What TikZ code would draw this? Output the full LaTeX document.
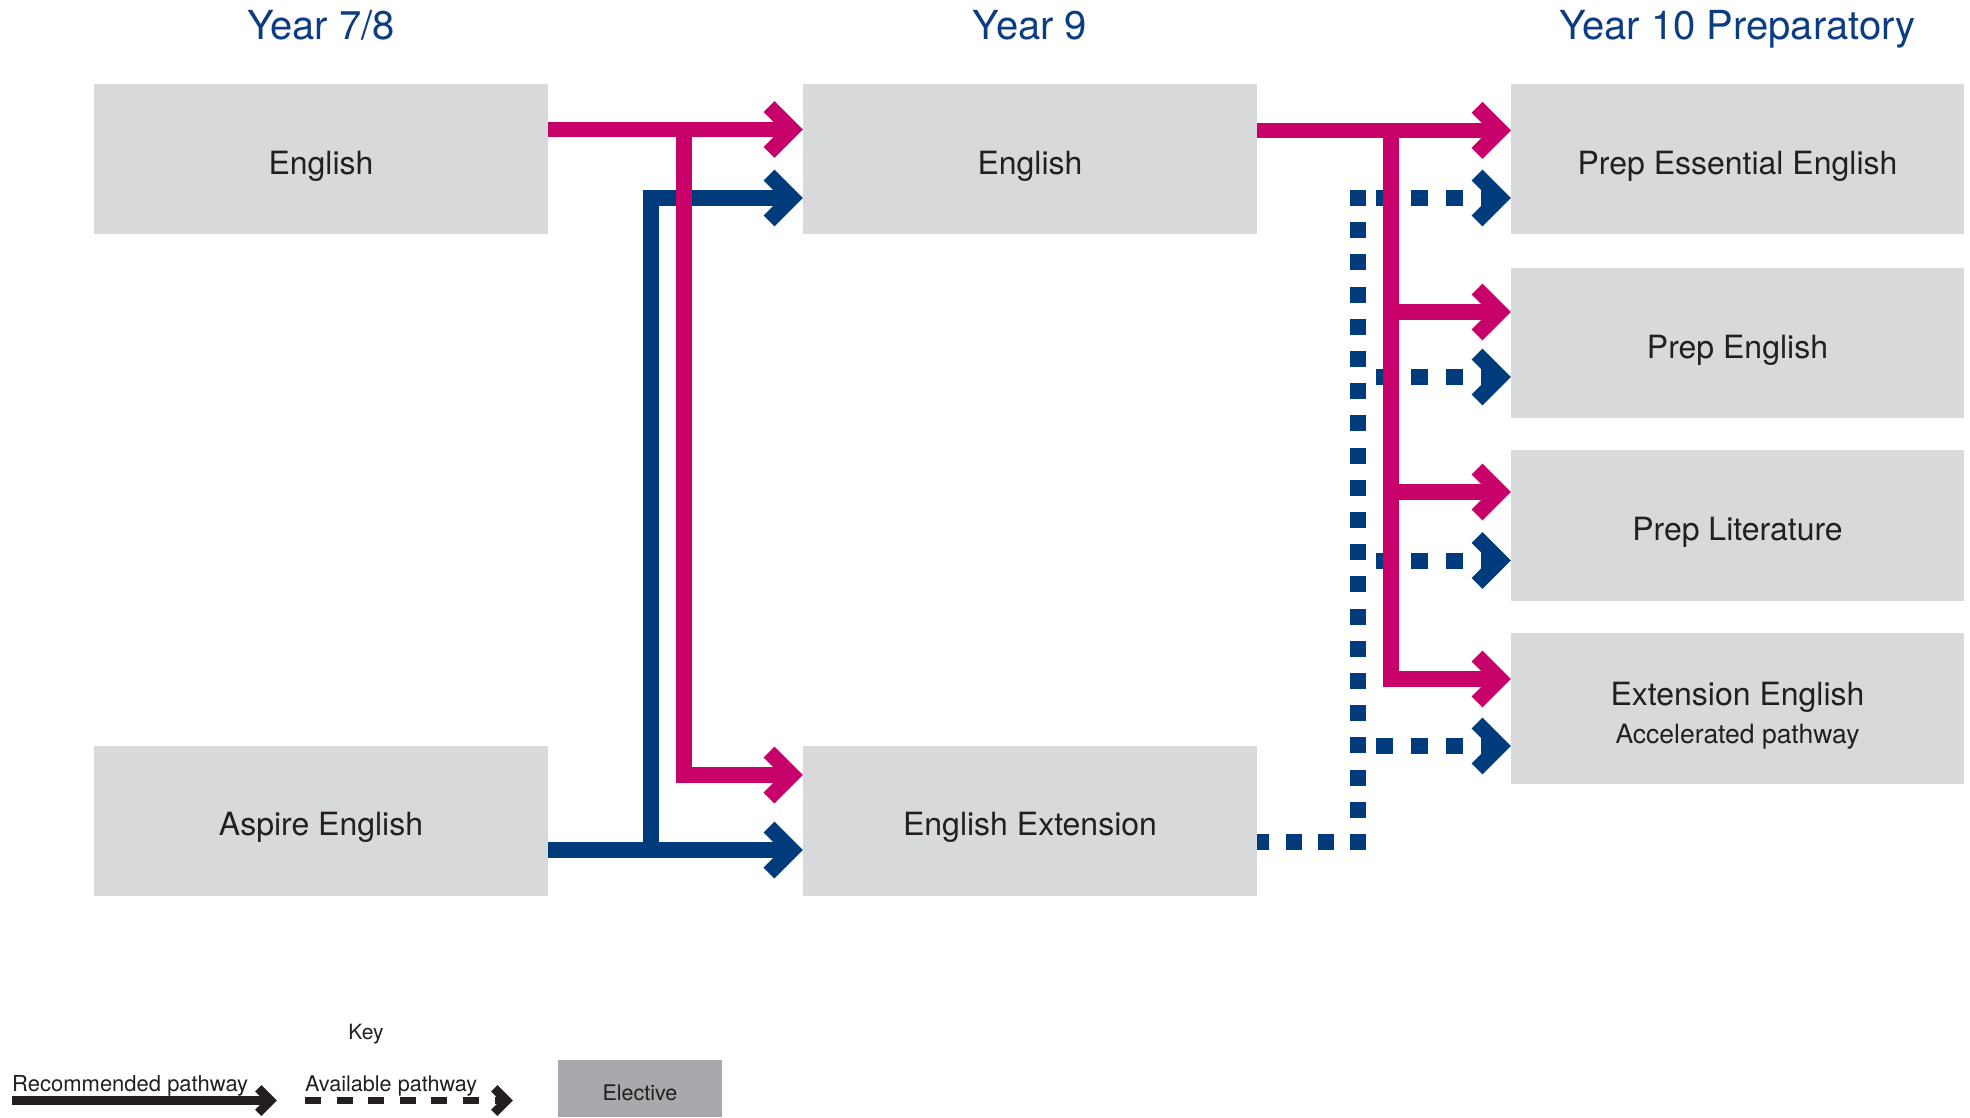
\documentclass[tikz,border=0pt]{standalone}
\usepackage{fontspec}
\setmainfont{TeX Gyre Heros}
\usetikzlibrary{arrows.meta}

\definecolor{magc}{HTML}{C8006A}
\definecolor{navyc}{HTML}{003B7C}
\definecolor{boxg}{HTML}{D8D9DB}
\definecolor{elecg}{HTML}{A7A9AC}
\definecolor{txtc}{HTML}{231F20}
\definecolor{ttlc}{HTML}{0B3D83}

\pgfdeclarearrow{
  name = Chev,
  setup code = {
    \pgfarrowssettipend{0pt}
    \pgfarrowssetlineend{-12pt}
    \pgfarrowssetbackend{-40pt}
  },
  drawing code = {
    \pgfsetdash{}{0pt}
    \pgfsetlinewidth{15.5pt}
    \pgfsetmiterjoin
    \pgfsetbuttcap
    \pgfpathmoveto{\pgfqpoint{-34pt}{23pt}}
    \pgfpathlineto{\pgfqpoint{-11pt}{0pt}}
    \pgfpathlineto{\pgfqpoint{-34pt}{-23pt}}
    \pgfusepathqstroke
  }
}

\pgfdeclarearrow{
  name = ChevS,
  setup code = {
    \pgfarrowssettipend{0pt}
    \pgfarrowssetlineend{-7pt}
    \pgfarrowssetbackend{-22pt}
  },
  drawing code = {
    \pgfsetdash{}{0pt}
    \pgfsetlinewidth{9pt}
    \pgfsetmiterjoin
    \pgfsetbuttcap
    \pgfpathmoveto{\pgfqpoint{-18.7pt}{12.3pt}}
    \pgfpathlineto{\pgfqpoint{-6.4pt}{0pt}}
    \pgfpathlineto{\pgfqpoint{-18.7pt}{-12.3pt}}
    \pgfusepathqstroke
  }
}

\tikzset{
  box/.style={fill=boxg, minimum width=454pt, minimum height=150pt, inner sep=0pt, outer sep=0pt,
    text=txtc, font=\fontsize{32}{38}\selectfont, text height=30pt, text depth=0pt},
  hd/.style={text=ttlc, font=\fontsize{40}{46}\selectfont, anchor=base, inner sep=0pt},
  lbl/.style={text=txtc, inner sep=0pt, anchor=base},
  lg/.style={text=txtc, font=\fontsize{22}{26}\selectfont, inner sep=0pt},
  pathM/.style={draw=magc, line width=15.5pt, line join=miter, -Chev},
  pathB/.style={draw=navyc, line width=15.5pt, line join=miter, -Chev},
  trunkB/.style={draw=navyc, line width=16pt, line join=miter, dash pattern=on 16pt off 16.2pt, dash phase=3.6pt},
  dotB/.style={draw=navyc, line width=16pt, line join=miter, dash pattern=on 17pt off 18pt, dash phase=17pt, -Chev},
}

\begin{document}
\begin{tikzpicture}[x=1pt,y=-1pt]
\useasboundingbox (0,0) rectangle (1970,1117);

% titles
\node[hd] (t1) at (321,39.5) {Year 7/8};
\node[hd] (t2) at (1030,39.5) {Year 9};
\node[hd] (t3) at (1737.5,39.5) {Year 10 Preparatory};

% boxes
\node[box] (eng78) at (321,159) {English};
\node[box] (asp) at (321,820.5) {Aspire English};
\node[box] (eng9) at (1030,159) {English};
\node[box] (ext) at (1030,820.5) {English Extension};
\node[box, minimum width=453pt] (p1) at (1737.5,159) {Prep Essential English};
\node[box, minimum width=453pt] (p2) at (1737.5,343) {Prep English};
\node[box, minimum width=453pt, minimum height=151pt] (p3) at (1737.5,525.5) {Prep Literature};
\node[box, minimum width=453pt, minimum height=151pt] (p4) at (1737.5,708.5) {};
\node[lbl, font=\fontsize{32}{38}\selectfont] (p4a) at ([yshift=3.5pt]p4.center) {Extension English};
\node[lbl, font=\fontsize{26.5}{31}\selectfont] (p4b) at ([yshift=-34.8pt]p4.center) {Accelerated pathway};

% junction coordinates
\coordinate (mA) at (684,129.5);
\coordinate (mAb) at (684,775);
\coordinate (bA) at (651,850);
\coordinate (bAt) at (651,198);
\coordinate (mB) at (1391,130.3);
\coordinate (mB2) at (1391,312);
\coordinate (mB3) at (1391,492);
\coordinate (mB4) at (1391,679);
\coordinate (dB) at (1358,842);
\coordinate (dT) at (1358,190);
\coordinate (d1) at (1358,198);
\coordinate (d2) at (1358,377);
\coordinate (d3) at (1358,560.5);
\coordinate (d4) at (1358,746);

% blue (drawn first, below magenta)
\draw[pathB] (asp.east |- bA) -- (ext.west |- bA);
\draw[pathB] ([yshift=-7.75pt]bA) -- (bAt) -- (eng9.west |- bAt);

% blue dotted
\draw[trunkB] (ext.east |- dB) -- (dB) -- (dT);
\draw[dotB] (d1) -- (p1.west |- d1);
\draw[dotB] (d2) -- (p2.west |- d2);
\draw[dotB] (d3) -- (p3.west |- d3);
\draw[dotB] (d4) -- (p4.west |- d4);

% magenta
\draw[pathM] (eng78.east |- mA) -- (eng9.west |- mA);
\draw[pathM] (mA) -- (mAb) -- (ext.west |- mAb);
\draw[pathM] (eng9.east |- mB) -- (p1.west |- mB);
\draw[pathM] (mB) -- (mB4) -- (p4.west |- mB4);
\draw[pathM] (mB2) -- (p2.west |- mB2);
\draw[pathM] (mB3) -- (p3.west |- mB3);

% key
\node[lg, anchor=base, font=\fontsize{21}{26}\selectfont] (key) at (366,1039) {Key};
\node[lg, anchor=base west] (k1) at (12,1091.7) {Recommended pathway};
\node[lg, anchor=base west, font=\fontsize{21.6}{26}\selectfont] (k2) at (305,1091.7) {Available pathway};
\coordinate (r0) at (12,1100.5);
\coordinate (r1) at (277,1100.5);
\coordinate (a0) at (305,1100.5);
\coordinate (a1) at (513,1100.5);
\draw[draw=txtc, line width=9pt, -ChevS] (r0) -- (r1);
\draw[draw=txtc, line width=7.5pt, dash pattern=on 16pt off 15.6pt, -ChevS] (a0) -- (a1);
\node[fill=elecg, minimum width=164pt, minimum height=57pt, inner sep=0pt, outer sep=0pt,
  text=txtc, font=\fontsize{21.5}{26}\selectfont, text height=23pt, text depth=0pt] (el) at (640,1088.5) {Elective};
\end{tikzpicture}
\end{document}
